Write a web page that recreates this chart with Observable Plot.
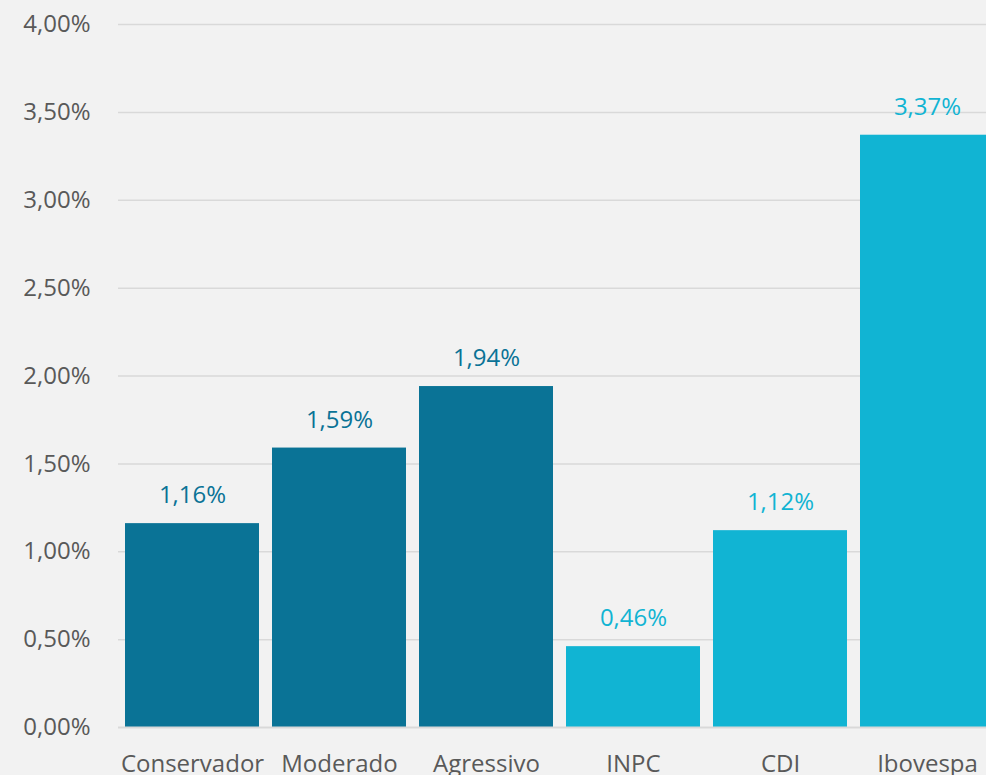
<!DOCTYPE html>
<html>
<head>
<meta charset="utf-8">
<script src="https://cdn.jsdelivr.net/npm/d3@7"></script>
<script src="https://cdn.jsdelivr.net/npm/@observablehq/plot@0.6"></script>
<style>
  html, body { margin: 0; padding: 0; background: #f2f2f2; overflow: hidden; }
  svg { display: block; }
</style>
</head>
<body>
<div id="chart"></div>
<script>
const categories = ["Conservador", "Moderado", "Agressivo", "INPC", "CDI", "Ibovespa"];
const values = [1.16, 1.59, 1.94, 0.46, 1.12, 3.37];
const groups = ["carteira", "carteira", "carteira", "indice", "indice", "indice"];
const yTicks = [0, 0.5, 1, 1.5, 2, 2.5, 3, 3.5, 4];

const data = categories.map((c, i) => ({ cat: c, v: values[i], g: groups[i] }));
const fmt = v => v.toFixed(2).replace(".", ",") + "%";
const colors = { carteira: "#0a7396", indice: "#11b4d3" };

const chart = Plot.plot({
  width: 986,
  height: 775,
  marginLeft: 118,
  marginRight: 0,
  marginTop: 24,
  marginBottom: 48,
  style: { background: "#f2f2f2", fontFamily: "'Open Sans', sans-serif", fontSize: "24px", color: "#595959" },
  x: { domain: categories, range: [119, 1001], paddingInner: 0.088, paddingOuter: 0.044, label: null },
  y: { domain: [0, 4], label: null },
  color: { domain: ["carteira", "indice"], range: [colors.carteira, colors.indice] },
  marks: [
    Plot.ruleY(yTicks.filter(t => t > 0), { stroke: "#d9d9d9", strokeWidth: 1.5 }),
    Plot.barY(data, { x: "cat", y: "v", fill: "g" }),
    Plot.ruleY([0], { stroke: "#d9d9d9", strokeWidth: 2 }),
    Plot.text(data, { x: "cat", y: "v", text: d => fmt(d.v), fill: d => colors[d.g], dy: -28, fontSize: 24 }),
    Plot.axisY({ ticks: yTicks, tickFormat: fmt, tickSize: 0, tickPadding: 28, fontSize: 24, fill: "#595959" }),
    Plot.axisX({ tickSize: 0, tickPadding: 27, fontSize: 24, fill: "#595959" })
  ]
});
document.getElementById("chart").appendChild(chart);
</script>
</body>
</html>
